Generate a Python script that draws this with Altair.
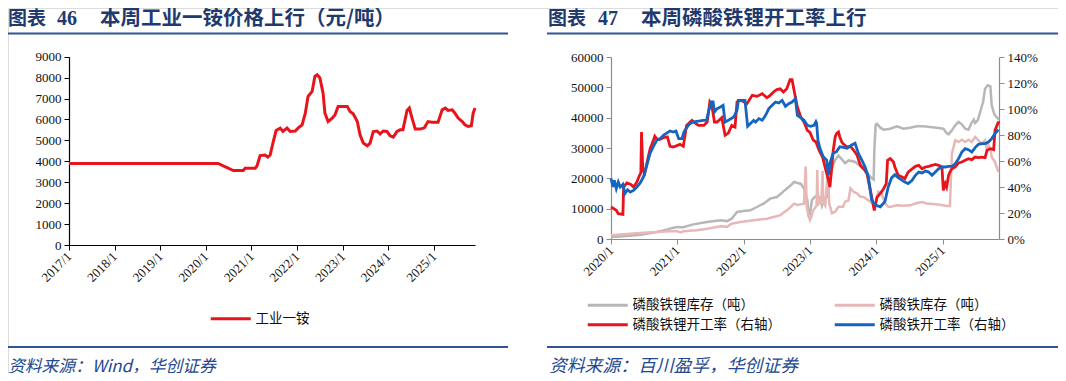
import altair as alt
import pandas as pd

# ---------------- data ----------------
LEFT_SERIES = "工业一铵"
LEFT_YEARS = [2017.00, 2020.27, 2020.38, 2020.49, 2020.60, 2020.82, 2020.86, 2021.08, 2021.12, 2021.19,
              2021.30, 2021.36, 2021.41, 2021.47, 2021.54, 2021.63, 2021.69, 2021.78, 2021.85, 2021.96,
              2022.02, 2022.11, 2022.18, 2022.24, 2022.33, 2022.39, 2022.44, 2022.50, 2022.57, 2022.61,
              2022.68, 2022.77, 2022.83, 2022.90, 2022.94, 2023.10, 2023.16, 2023.23, 2023.32, 2023.38,
              2023.45, 2023.54, 2023.60, 2023.67, 2023.75, 2023.82, 2023.89, 2023.97, 2024.04, 2024.11,
              2024.19, 2024.26, 2024.32, 2024.41, 2024.46, 2024.52, 2024.59, 2024.70, 2024.79, 2024.87,
              2024.96, 2025.09, 2025.18, 2025.25, 2025.31, 2025.40, 2025.46, 2025.53, 2025.62, 2025.68,
              2025.75, 2025.82, 2025.86, 2025.90]
LEFT_PRICE = [3900, 3900, 3780, 3670, 3560, 3560, 3670, 3670, 3780, 4275,
              4300, 4200, 4300, 4870, 5470, 5585, 5425, 5585, 5425, 5450,
              5585, 5745, 6300, 7100, 7340, 8060, 8140, 7980, 7260, 6300,
              5900, 6060, 6220, 6620, 6620, 6620, 6380, 6270, 5900, 5265,
              4870, 4740, 4870, 5425, 5450, 5310, 5450, 5425, 5220, 5155,
              5425, 5505, 5505, 6430, 6545, 6065, 5540, 5540, 5600, 5900,
              5870, 5870, 6460, 6545, 6430, 6460, 6300, 6065, 5900, 5745,
              5665, 5700, 6300, 6545]

RIGHT_SERIES = ["磷酸铁锂库存（吨）", "磷酸铁库存（吨）", "磷酸铁锂开工率（右轴）", "磷酸铁开工率（右轴）"]

# 磷酸铁锂库存（吨）
LFP_INV_YEARS = [2020.00, 2020.19, 2020.44, 2020.69, 2020.84, 2020.94, 2021.00, 2021.09, 2021.24, 2021.45,
                 2021.65, 2021.75, 2021.82, 2021.90, 2022.00, 2022.10, 2022.20, 2022.30, 2022.40, 2022.50,
                 2022.55, 2022.63, 2022.71, 2022.76, 2022.81, 2022.86, 2022.91, 2022.96, 2022.98, 2023.00,
                 2023.03, 2023.07, 2023.12, 2023.15, 2023.18, 2023.21, 2023.26, 2023.30, 2023.33, 2023.38,
                 2023.43, 2023.48, 2023.53, 2023.58, 2023.63, 2023.68, 2023.73, 2023.78, 2023.83, 2023.88,
                 2023.93, 2023.96, 2023.97, 2023.99, 2024.01, 2024.06, 2024.11, 2024.21, 2024.31, 2024.41,
                 2024.51, 2024.61, 2024.71, 2024.81, 2024.91, 2025.01, 2025.06, 2025.09, 2025.14, 2025.19,
                 2025.24, 2025.29, 2025.34, 2025.39, 2025.43, 2025.47, 2025.49, 2025.53, 2025.57, 2025.61,
                 2025.64, 2025.68, 2025.72, 2025.74, 2025.78, 2025.82, 2025.85]
LFP_INV = [660, 880, 1430, 2310, 3080, 3740, 3950, 3900, 4830, 5600,
           6150, 5900, 6700, 8900, 9230, 9450, 10550, 11650, 13300, 13850,
           14730, 16260, 17690, 18790, 18460, 18240, 16590, 12970, 7350, 8350,
           12860, 13850, 14400, 13500, 11000, 13200, 13950, 18500, 23500, 26000,
           27500, 26300, 25000, 25900, 25700, 25400, 24600, 23500, 22700, 21300,
           20000, 19600, 29000, 37600, 38000, 36700, 36040, 36370, 37140, 36370,
           36700, 37140, 37140, 36920, 36700, 36370, 34940, 34500, 35820, 37470,
           38570, 37800, 36370, 36040, 38020, 39340, 38240, 39120, 42200, 45160,
           49560, 50660, 50330, 44070, 41100, 40000, 39340]

# 磷酸铁库存（吨）
FP_INV_YEARS = [2020.00, 2020.19, 2020.44, 2020.69, 2020.94, 2021.00, 2021.05, 2021.09, 2021.29, 2021.45,
                2021.65, 2021.75, 2021.82, 2021.95, 2022.15, 2022.35, 2022.45, 2022.55, 2022.65, 2022.71,
                2022.76, 2022.81, 2022.91, 2022.935, 2022.95, 2022.97, 2023.00, 2023.02, 2023.05, 2023.10,
                2023.11, 2023.12, 2023.14, 2023.17, 2023.19, 2023.20, 2023.23, 2023.27, 2023.29, 2023.33,
                2023.38, 2023.43, 2023.50, 2023.53, 2023.58, 2023.61, 2023.66, 2023.71, 2023.76, 2023.81,
                2023.88, 2023.95, 2023.98, 2024.03, 2024.08, 2024.13, 2024.18, 2024.21, 2024.31, 2024.41,
                2024.51, 2024.61, 2024.69, 2024.76, 2024.86, 2024.96, 2025.06, 2025.11, 2025.14, 2025.19,
                2025.24, 2025.29, 2025.34, 2025.39, 2025.44, 2025.49, 2025.54, 2025.59, 2025.64, 2025.67,
                2025.69, 2025.72, 2025.74, 2025.79, 2025.84]
FP_INV = [1210, 1540, 1980, 2310, 2640, 2530, 2200, 2530, 2860, 3410,
          4180, 4000, 5050, 5600, 6150, 6700, 7250, 7800, 9450, 10550,
          11650, 11200, 11650, 23900, 11100, 8350, 6260, 7250, 9560, 11000,
          22700, 11000, 13000, 11500, 22500, 12000, 11000, 22750, 11760, 8470,
          9000, 10650, 10650, 12310, 12700, 16700, 15490, 15050, 13950, 13850,
          12740, 11650, 10650, 15600, 15000, 11760, 10650, 10550, 11100, 11000,
          11100, 11870, 12200, 11700, 11500, 11300, 10880, 10880, 28130, 32530,
          32000, 32750, 32000, 32750, 31980, 33630, 32530, 31430, 32530, 29230,
          31000, 29780, 27020, 25380, 22090]

# 磷酸铁锂开工率（右轴, %）
LFP_RATE_YEARS = [2020.00, 2020.08, 2020.11, 2020.18, 2020.19, 2020.24, 2020.30, 2020.34, 2020.39, 2020.43,
                  2020.45, 2020.46, 2020.48, 2020.51, 2020.55, 2020.59, 2020.64, 2020.66, 2020.69, 2020.74,
                  2020.79, 2020.85, 2020.89, 2020.94, 2021.04, 2021.09, 2021.14, 2021.22, 2021.27, 2021.32,
                  2021.40, 2021.45, 2021.49, 2021.52, 2021.56, 2021.60, 2021.67, 2021.72, 2021.77, 2021.82,
                  2021.87, 2021.90, 2021.95, 2022.01, 2022.05, 2022.13, 2022.20, 2022.28, 2022.35, 2022.40,
                  2022.45, 2022.50, 2022.55, 2022.60, 2022.65, 2022.70, 2022.73, 2022.77, 2022.81, 2022.86,
                  2022.91, 2022.96, 2023.00, 2023.05, 2023.09, 2023.14, 2023.19, 2023.24, 2023.28, 2023.30,
                  2023.33, 2023.35, 2023.38, 2023.40, 2023.43, 2023.45, 2023.48, 2023.50, 2023.56, 2023.61,
                  2023.66, 2023.71, 2023.76, 2023.81, 2023.86, 2023.91, 2023.95, 2023.97, 2023.98, 2024.01,
                  2024.06, 2024.11, 2024.15, 2024.17, 2024.21, 2024.26, 2024.28, 2024.33, 2024.39, 2024.43,
                  2024.48, 2024.54, 2024.59, 2024.64, 2024.69, 2024.74, 2024.79, 2024.84, 2024.89, 2024.94,
                  2024.99, 2025.01, 2025.04, 2025.06, 2025.09, 2025.11, 2025.14, 2025.19, 2025.24, 2025.29,
                  2025.34, 2025.39, 2025.44, 2025.49, 2025.54, 2025.59, 2025.64, 2025.67, 2025.72, 2025.77,
                  2025.79, 2025.83, 2025.85]
LFP_RATE = [24.6, 22.1, 19.5, 19.0, 40.0, 43.1, 42.0, 40.0, 43.8, 49.0,
            50.8, 82.3, 52.8, 50.8, 60.5, 69.5, 75.9, 79.0, 77.0, 76.7,
            77.9, 78.5, 71.3, 70.8, 72.8, 71.3, 87.4, 91.3, 89.2, 87.4,
            87.4, 90.0, 105.4, 102.8, 90.0, 90.0, 93.3, 79.8, 81.5, 87.4,
            86.1, 105.4, 106.7, 105.4, 104.1, 110.5, 109.7, 111.8, 108.7, 110.5,
            113.1, 114.9, 115.6, 113.1, 115.6, 122.6, 122.6, 111.8, 101.5, 93.8,
            90.0, 83.6, 82.0, 76.0, 74.6, 68.0, 63.0, 52.8, 45.0, 40.0,
            55.4, 68.0, 78.5, 81.0, 82.3, 78.5, 74.6, 73.3, 70.8, 71.3,
            68.2, 64.4, 56.7, 54.1, 50.3, 37.4, 27.2, 22.0, 24.8, 32.0,
            35.0, 38.7, 42.6, 60.5, 61.8, 59.2, 55.4, 49.0, 47.7, 46.4,
            51.5, 54.0, 55.9, 56.7, 54.0, 55.4, 55.9, 56.7, 57.4, 56.7,
            55.4, 37.4, 42.6, 40.0, 49.0, 51.5, 54.0, 55.4, 58.5, 59.2,
            60.5, 61.8, 61.0, 63.0, 62.6, 63.0, 62.6, 68.2, 69.5, 68.7,
            83.6, 88.7, 90.5]

# 磷酸铁开工率（右轴, %）
FP_RATE_YEARS = [2020.00, 2020.03, 2020.05, 2020.08, 2020.11, 2020.14, 2020.18, 2020.21, 2020.25, 2020.29,
                 2020.34, 2020.39, 2020.44, 2020.49, 2020.54, 2020.59, 2020.64, 2020.69, 2020.74, 2020.79,
                 2020.84, 2020.89, 2020.94, 2020.98, 2021.02, 2021.07, 2021.10, 2021.14, 2021.19, 2021.24,
                 2021.29, 2021.34, 2021.39, 2021.44, 2021.47, 2021.51, 2021.54, 2021.56, 2021.60, 2021.65,
                 2021.69, 2021.72, 2021.77, 2021.85, 2021.90, 2021.92, 2021.97, 2022.02, 2022.06, 2022.10,
                 2022.15, 2022.18, 2022.23, 2022.28, 2022.33, 2022.38, 2022.43, 2022.48, 2022.53, 2022.58,
                 2022.63, 2022.68, 2022.73, 2022.78, 2022.81, 2022.86, 2022.91, 2022.96, 2023.01, 2023.06,
                 2023.09, 2023.10, 2023.12, 2023.15, 2023.20, 2023.25, 2023.28, 2023.30, 2023.35, 2023.40,
                 2023.45, 2023.50, 2023.56, 2023.63, 2023.68, 2023.73, 2023.78, 2023.83, 2023.88, 2023.93,
                 2023.98, 2024.06, 2024.13, 2024.18, 2024.23, 2024.28, 2024.33, 2024.39, 2024.43, 2024.48,
                 2024.54, 2024.59, 2024.64, 2024.69, 2024.74, 2024.79, 2024.84, 2024.89, 2024.94, 2024.99,
                 2025.04, 2025.09, 2025.14, 2025.19, 2025.24, 2025.29, 2025.34, 2025.39, 2025.44, 2025.49,
                 2025.54, 2025.59, 2025.64, 2025.69, 2025.74, 2025.79, 2025.84]
FP_RATE = [46.4, 40.0, 45.1, 38.7, 43.8, 40.0, 42.0, 34.9, 37.9, 36.1,
           37.4, 40.0, 43.1, 47.7, 56.7, 66.1, 71.3, 75.9, 77.2, 79.7,
           81.5, 83.1, 82.3, 83.1, 77.2, 77.2, 82.3, 85.6, 88.7, 90.0,
           90.5, 90.8, 91.3, 91.3, 97.7, 105.4, 105.4, 97.7, 100.3, 101.5,
           102.8, 90.0, 91.3, 93.8, 99.0, 106.7, 106.7, 106.7, 86.7, 88.7,
           91.3, 90.0, 92.6, 91.3, 95.1, 100.3, 102.8, 105.4, 104.6, 106.7,
           102.1, 104.1, 105.4, 107.9, 95.1, 93.3, 91.3, 87.4, 86.7, 87.4,
           90.3, 89.2, 76.0, 69.8, 63.3, 60.8, 49.2, 58.2, 65.9, 67.2,
           71.0, 70.5, 69.8, 72.3, 73.6, 65.9, 60.8, 55.6, 47.9, 30.0,
           26.2, 24.8, 28.7, 40.0, 47.0, 49.5, 47.2, 45.1, 43.8, 42.6,
           45.1, 49.0, 51.5, 50.8, 52.3, 51.5, 49.0, 51.5, 54.1, 55.4,
           55.4, 55.9, 55.9, 57.9, 61.8, 66.9, 69.5, 68.7, 66.9, 70.3,
           72.8, 73.3, 73.3, 74.6, 77.2, 81.0, 84.1]

LEFT_TICKS_X = [2017, 2018, 2019, 2020, 2021, 2022, 2023, 2024, 2025]
LEFT_TICKS_Y = [0, 1000, 2000, 3000, 4000, 5000, 6000, 7000, 8000, 9000]
RIGHT_TICKS_X = [2020, 2021, 2022, 2023, 2024, 2025]
RIGHT_TICKS_Y1 = [0, 10000, 20000, 30000, 40000, 50000, 60000]
RIGHT_TICKS_Y2 = [0, 20, 40, 60, 80, 100, 120, 140]

TITLE_L_NUM = "46"
TITLE_L_TEXT = "本周工业一铵价格上行（元/吨）"
TITLE_R_NUM = "47"
TITLE_R_TEXT = "本周磷酸铁锂开工率上行"
TITLE_PREFIX = "图表"
SOURCE_L = "资料来源：Wind，华创证券"
SOURCE_R = "资料来源：百川盈孚，华创证券"

# ---------------- styling ----------------
CJK = "Noto Sans CJK SC"
SERIF = "Liberation Serif"
NAVY = "#1F3A6E"
LINE_BLUE = "#2F5597"
SRC_BLUE = "#23488F"
RIGHT_COLORS = ["#B7B7B7", "#E8B7B7", "#E8141C", "#1565C0"]
LEFT_COLOR = "#E8141C"
LEGEND_LINE = "M-4,0H4"   # wide, flat legend symbol

W, H = 1050, 365

left_df = pd.DataFrame({"year": LEFT_YEARS, "v": LEFT_PRICE, "s": LEFT_SERIES})
inv_df = pd.concat([
    pd.DataFrame({"year": LFP_INV_YEARS, "v": LFP_INV, "s": RIGHT_SERIES[0]}),
    pd.DataFrame({"year": FP_INV_YEARS, "v": FP_INV, "s": RIGHT_SERIES[1]}),
], ignore_index=True)
rate_df = pd.concat([
    pd.DataFrame({"year": LFP_RATE_YEARS, "v": LFP_RATE, "s": RIGHT_SERIES[2]}),
    pd.DataFrame({"year": FP_RATE_YEARS, "v": FP_RATE, "s": RIGHT_SERIES[3]}),
], ignore_index=True)


def x_axis(offset, values, color):
    return alt.Axis(orient="bottom", offset=offset, values=values, labelExpr="datum.value + '/1'",
                    labelAngle=-45, labelAlign="right", labelBaseline="middle", labelFont=SERIF,
                    labelFontSize=13, labelColor="#111", labelPadding=4, grid=False, title=None,
                    domainColor=color, tickColor=color, tickSize=5, domainWidth=1.2, labelOverlap=False)


def y_axis(orient, offset, values, color, expr=None):
    kw = dict(orient=orient, offset=offset, values=values, labelFont=SERIF, labelFontSize=13,
              labelColor="#111", labelPadding=3, grid=False, title=None, domainColor=color,
              tickColor=color, tickSize=5, domainWidth=1.2, labelOverlap=False, format="d")
    if expr:
        kw["labelExpr"] = expr
    return alt.Axis(**kw)


LEGEND_FONT = 13.5


def legend(x, y, **extra):
    return alt.Legend(orient="none", legendX=x, legendY=y, title=None, symbolType=LEGEND_LINE,
                      symbolSize=100, symbolStrokeWidth=3, labelFont=CJK, labelFontSize=LEGEND_FONT,
                      labelColor="#111", labelOffset=18, labelLimit=300, padding=0, **extra)


# ---------------- left panel ----------------
left_line = alt.Chart(left_df).mark_line(strokeWidth=3).encode(
    x=alt.X("year:Q", scale=alt.Scale(domain=[2017, 2025.9], range=[61, 467], nice=False, zero=False),
            axis=x_axis(-128, LEFT_TICKS_X, "#000")),
    y=alt.Y("v:Q", scale=alt.Scale(domain=[0, 9000], range=[237, 48.7], nice=False),
            axis=y_axis("left", -61, LEFT_TICKS_Y, "#000")),
    color=alt.Color("s:N", scale=alt.Scale(domain=[LEFT_SERIES], range=[LEFT_COLOR]),
                    legend=legend(216, 304)),
)

# ---------------- right panel ----------------
right_x = alt.X("year:Q", scale=alt.Scale(domain=[2020, 2025.85], range=[603, 991], nice=False, zero=False),
                axis=x_axis(-134, RIGHT_TICKS_X, "#8C8C8C"))
right_color = alt.Color("s:N", scale=alt.Scale(domain=RIGHT_SERIES, range=RIGHT_COLORS),
                        legend=legend(593, 290, columns=2, direction="horizontal",
                                      columnPadding=47, rowPadding=5))

inv_line = alt.Chart(inv_df).mark_line(strokeWidth=2.5).encode(
    x=right_x,
    y=alt.Y("v:Q", scale=alt.Scale(domain=[0, 60000], range=[231, 49], nice=False),
            axis=y_axis("left", -603, RIGHT_TICKS_Y1, "#8C8C8C")),
    color=right_color,
)
rate_line = alt.Chart(rate_df).mark_line(strokeWidth=2.8).encode(
    x=right_x,
    y=alt.Y("v:Q", scale=alt.Scale(domain=[0, 140], range=[231, 49], nice=False),
            axis=y_axis("right", -59, RIGHT_TICKS_Y2, "#8C8C8C", "datum.value + '%'")),
    color=right_color,
)
right_panel = alt.layer(inv_line, rate_line).resolve_scale(y="independent")


# ---------------- header / footer text and rules ----------------
def text(t, x, y, size, color, font=CJK, weight="normal", style="normal"):
    return alt.Chart(pd.DataFrame({"t": [t]})).mark_text(
        align="left", baseline="middle", font=font, fontSize=size, fontWeight=weight,
        fontStyle=style, color=color).encode(text="t:N", x=alt.value(x), y=alt.value(y))


def rule(x1, x2, y, color, width):
    return alt.Chart(pd.DataFrame({"k": [0]})).mark_rule(color=color, strokeWidth=width).encode(
        x=alt.value(x1), x2=alt.value(x2), y=alt.value(y))


TY = 11
decor = [
    text(TITLE_PREFIX, 0, TY, 19, NAVY, weight="bold"),
    text(TITLE_L_NUM, 49, TY, 20, NAVY, font=SERIF, weight="bold"),
    text(TITLE_L_TEXT, 92, TY, 20.5, NAVY, weight="bold"),
    text(TITLE_PREFIX, 540, TY, 19, NAVY, weight="bold"),
    text(TITLE_R_NUM, 590, TY, 20, NAVY, font=SERIF, weight="bold"),
    text(TITLE_R_TEXT, 633, TY, 20.5, NAVY, weight="bold"),
    rule(0, 500, 25.5, LINE_BLUE, 2),
    rule(539, 1050, 25.5, LINE_BLUE, 2),
    rule(0, 500, 339, LINE_BLUE, 2),
    rule(539, 1050, 339, LINE_BLUE, 2),
    text(SOURCE_L, 0, 359, 16.8, SRC_BLUE, style="italic"),
    text(SOURCE_R, 541, 359, 17.8, SRC_BLUE, style="italic"),
]

chart = alt.layer(*decor, left_line, right_panel).resolve_scale(
    x="independent", y="independent", color="independent"
).properties(
    width=W, height=H, padding=0, autosize=alt.AutoSizeParams(type="none")
).configure_view(stroke=None).configure(background="white")

chart.save("out.html", embed_options={"renderer": "svg", "actions": False})
